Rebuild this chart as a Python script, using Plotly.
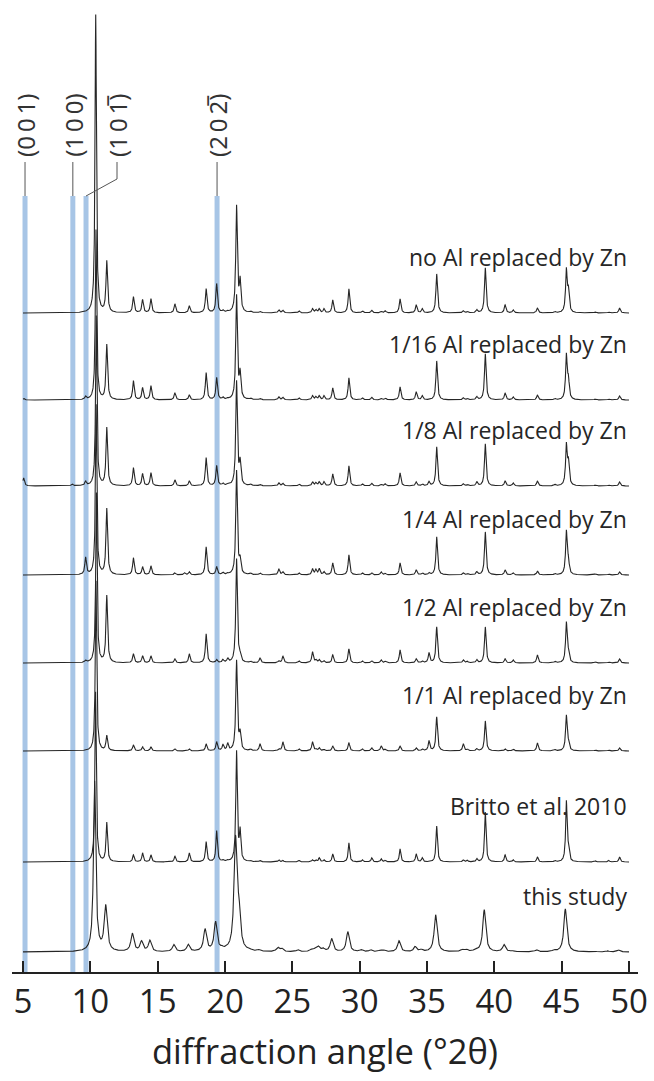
import numpy as np
import plotly.graph_objects as go

# Reflection positions (°2θ) shared by all patterns
peak_pos = [5.05, 8.65, 9.65, 10.40, 11.22, 13.20, 13.88, 14.50, 16.28, 17.00,
            17.35, 18.60, 19.38, 19.85, 20.20, 20.86, 21.12, 21.90, 22.60, 24.00,
            24.30, 25.50, 26.50, 26.75, 27.00, 27.35, 28.00, 29.20, 30.20, 30.90,
            31.60, 31.90, 33.00, 34.20, 34.65, 35.15, 35.72, 37.70, 38.00, 38.70,
            39.33, 40.80, 41.40, 43.20, 44.50, 45.35, 45.50, 47.50, 48.50, 49.30]

# Peak intensities per pattern (arbitrary units), aligned with peak_pos
h_no_al = [0, 0, 0, 298, 51, 16, 13, 14, 9, 0,
           7, 24, 29, 2, 1, 106, 30, 1.5, 1.5, 3,
           2.5, 2, 4, 3, 4, 4, 13, 24, 2, 2.5,
           1.5, 2, 14, 8, 4, 0, 39, 2, 1.5, 3,
           45, 8, 3, 5, 1.5, 42, 20, 1, 1, 5]
h_1_16 = [1.5, 0, 3, 170, 55, 19, 12, 14, 7, 0,
          5, 27, 22, 2, 1, 104, 25, 1.5, 1.5, 3,
          2.5, 2, 4, 3, 4, 4, 12, 22, 2, 2.5,
          1.5, 2, 13, 8, 4, 0, 39, 2, 1.5, 3,
          46, 7, 3, 5, 1.5, 44, 18, 1, 1, 4]
h_1_8 = [8, 2, 4, 170, 58, 18, 12, 13, 6, 0,
         5, 28, 20, 2, 1, 104, 22, 1.5, 1.5, 3,
         2.5, 2, 4, 3, 4, 4, 12, 20, 2, 2.5,
         1.5, 2, 13, 4, 2, 4, 39, 2, 1.5, 4,
         42, 5, 3, 5, 1.5, 40, 22, 1, 1, 4]
h_1_4 = [0, 0, 17, 170, 66, 17, 8, 9, 2, 2,
         3, 28, 8, 2, 1, 104, 13, 1.5, 2, 6,
         3, 2, 6, 5, 6, 3, 12, 20, 2, 2,
         3, 1.5, 12, 5, 2, 2, 38, 2, 1.5, 3,
         43, 5, 2, 4, 1.5, 43, 12, 1, 1, 3]
h_1_2 = [0, 0, 2, 170, 67, 9, 7, 7, 4, 0,
         9, 29, 3, 3, 4, 104, 5, 1.5, 5, 2,
         7, 2, 11, 3, 3, 2, 8, 14, 2, 2,
         3, 1.5, 13, 4, 2, 10, 36, 3, 1.5, 3,
         36, 4, 3, 8, 1.5, 40, 8, 1, 1, 4]
h_1_1 = [0, 0, 0, 170, 15, 6, 4, 4, 2, 0,
         2, 7, 9, 6, 7, 90, 16, 1.5, 7, 2,
         9, 2, 9, 2, 3, 1.5, 5, 8, 2, 3,
         5, 1.5, 5, 3, 2, 10, 34, 7, 1.5, 2,
         30, 2, 2, 8, 1.5, 35, 6, 1, 1, 3]
h_britto = [0, 0, 0, 170, 39, 7, 9, 7, 6, 0,
            9, 20, 31, 1.5, 1, 110, 29, 1, 1.5, 2,
            1.5, 1.5, 2, 2, 4, 2, 8, 19, 2, 4,
            3, 1.5, 13, 8, 4, 0, 36, 2, 1.5, 3,
            50, 7, 2, 5, 1.5, 60, 10, 1, 1.5, 5]
h_this_study = [0, 0, 0, 170, 45, 18, 10, 11, 7, 0,
                7, 22, 29, 2, 1, 110, 33, 1, 1.5, 4,
                3, 2, 2, 2, 5, 3, 13, 20, 2, 2,
                1.5, 1.5, 11, 5, 2, 0, 37, 2, 2, 2,
                42, 7, 1, 2, 1.5, 43, 0, 1, 1, 2]

pattern_labels = ["no Al replaced by Zn", "1/16 Al replaced by Zn",
                  "1/8 Al replaced by Zn", "1/4 Al replaced by Zn",
                  "1/2 Al replaced by Zn", "1/1 Al replaced by Zn",
                  "Britto et al. 2010", "this study"]
pattern_heights = [h_no_al, h_1_16, h_1_8, h_1_4, h_1_2, h_1_1, h_britto, h_this_study]
# vertical stacking offset of each pattern
pattern_offsets = [659, 572, 486, 397, 309, 221, 110, 20]
# peak half widths (°2θ): ordinary reflections / main reflection
pattern_hwhm = [0.07, 0.07, 0.07, 0.07, 0.07, 0.07, 0.065, 0.13]
main_hwhm = [0.06, 0.06, 0.06, 0.06, 0.06, 0.06, 0.06, 0.10]
pattern_shift = [0, 0, 0, 0, 0, 0, 0, -0.08]
main_pos_jitter = [0.0, 0.02, 0.04, 0.03, 0.05, 0.02, -0.01, 0.0]

# Miller indices marked with vertical bands
hkl_labels = ["(0\u20090\u20091)", "(1\u20090\u20090)",
              "(1\u20090\u20091\u0305)", "(2\u20090\u20092\u0305)"]
hkl_pos = [5.15, 8.70, 9.68, 19.41]

tick_vals = [5, 10, 15, 20, 25, 30, 35, 40, 45, 50]

two_theta = np.arange(5.0, 50.0001, 0.01)

fig = go.Figure()

band_top = 776
for p in hkl_pos:
    fig.add_shape(type="line", x0=p, x1=p, y0=0, y1=band_top,
                  line=dict(color="#a7c5e6", width=5), layer="below")

for heights, off, w, mw, sh, jit in zip(pattern_heights, pattern_offsets, pattern_hwhm,
                                        main_hwhm, pattern_shift, main_pos_jitter):
    y = np.zeros_like(two_theta)
    for i, (p, h) in enumerate(zip(peak_pos, heights)):
        if h == 0:
            continue
        g = mw if i == 3 else w
        c = p + sh + (jit if i == 3 else 0)
        y += h * g * g / ((two_theta - c) ** 2 + g * g)
    fig.add_trace(go.Scatter(x=two_theta, y=y + off, mode="lines",
                             line=dict(color="#262626", width=1.1),
                             hoverinfo="skip", showlegend=False))

for lab, off in zip(pattern_labels, pattern_offsets):
    fig.add_annotation(x=50.0, y=off + 56, text=lab, xanchor="right", yanchor="middle",
                       showarrow=False,
                       font=dict(family="Open Sans", size=23, color="#262626"))

# leader lines and index labels
lead_top = 810
for lab, p in zip(hkl_labels, hkl_pos):
    if p == 9.68:
        lx = 11.98
        fig.add_shape(type="path",
                      path=f"M {lx},{lead_top} L {lx},{lead_top - 17} L {p},{band_top}",
                      line=dict(color="#555555", width=1))
    else:
        lx = p
        fig.add_shape(type="line", x0=p, x1=p, y0=band_top, y1=lead_top,
                      line=dict(color="#555555", width=1))
    fig.add_annotation(x=lx, y=lead_top + 3, text=lab, textangle=-90,
                       xanchor="center", yanchor="bottom", showarrow=False,
                       font=dict(family="Noto Sans", size=24, color="#333333"))

fig.add_annotation(x=0.5, y=-0.081, xref="paper", yref="paper",
                   text="diffraction angle (°2θ)", showarrow=False,
                   xanchor="center", yanchor="middle",
                   font=dict(family="Open Sans", size=34.5, color="#222222"))

fig.update_xaxes(range=[4.183, 50.668], tickvals=tick_vals, ticks="inside",
                 ticklen=11, tickwidth=1.5, tickcolor="#222222",
                 showline=True, linecolor="#222222", linewidth=1.5,
                 showgrid=False, zeroline=False,
                 tickfont=dict(family="Open Sans", size=33, color="#222222"))
fig.update_yaxes(range=[0, 972], visible=False, showgrid=False, zeroline=False)

fig.update_layout(width=654, height=1081, margin=dict(l=12, r=16, t=0, b=109),
                  plot_bgcolor="white", paper_bgcolor="white", showlegend=False)

fig.write_html("out.html")
